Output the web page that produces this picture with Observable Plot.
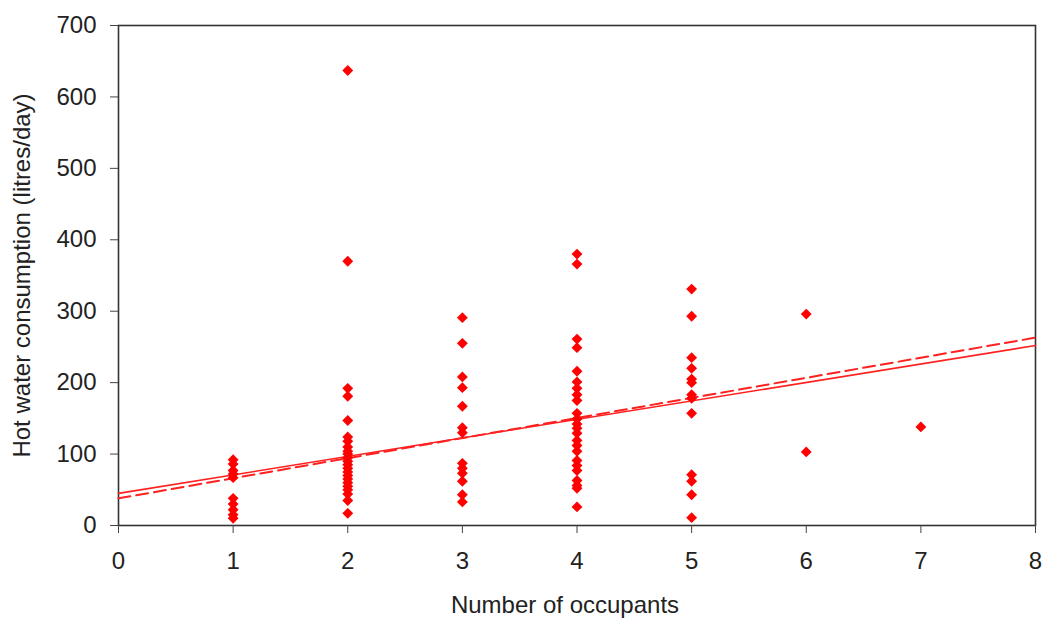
<!DOCTYPE html>
<html>
<head>
<meta charset="utf-8">
<script src="https://cdn.jsdelivr.net/npm/d3@7"></script>
<script src="https://cdn.jsdelivr.net/npm/@observablehq/plot@0.6"></script>
<style>
  body { margin: 0; background: #fff; }
</style>
</head>
<body>
<div id="chart"></div>
<script>
// Observed hot water consumption by number of occupants
const occ1 = [92, 86, 77, 72, 67, 38, 30, 22, 15, 10];
const occ2 = [637, 370, 192, 181, 147, 124, 118, 110, 104, 100, 95, 90, 85, 80, 75, 70, 65, 60, 55, 50, 44, 35, 17];
const occ3 = [291, 255, 208, 193, 167, 137, 130, 87, 80, 73, 62, 43, 33];
const occ4 = [380, 366, 261, 249, 216, 201, 192, 183, 175, 157, 149, 142, 136, 129, 119, 112, 104, 91, 84, 77, 63, 56, 52, 26];
const occ5 = [331, 293, 235, 220, 205, 200, 183, 178, 157, 71, 62, 43, 11];
const occ6 = [296, 103];
const occ7 = [138];

// Fitted lines (end values)
const fitX = [0, 8];
const fitSolid = [45, 252];
const fitDashed = [38, 263];

const xTicks = [0, 1, 2, 3, 4, 5, 6, 7, 8];
const yTicks = [0, 100, 200, 300, 400, 500, 600, 700];
const xLabel = "Number of occupants";
const yLabel = "Hot water consumption (litres/day)";

const groups = [occ1, occ2, occ3, occ4, occ5, occ6, occ7];
const points = groups.flatMap((vals, i) => vals.map(v => ({x: i + 1, y: v})));
const solid = fitX.map((x, i) => ({x, y: fitSolid[i]}));
const dashed = fitX.map((x, i) => ({x, y: fitDashed[i]}));

const chart = Plot.plot({
  width: 1046,
  height: 625,
  marginLeft: 118,
  marginRight: 11,
  marginTop: 25,
  marginBottom: 100,
  style: {fontFamily: "Liberation Sans, Arial, sans-serif", fontSize: "24px", color: "#222", background: "#fff"},
  x: {domain: [0, 8]},
  y: {domain: [0, 700]},
  marks: [
    Plot.frame({stroke: "#333", strokeWidth: 1.6}),
    Plot.axisY({ticks: yTicks, tickSize: 8, tickPadding: 14, fontSize: 24, stroke: "#444",
      label: yLabel, labelAnchor: "center", labelOffset: 106, labelArrow: "none"}),
    Plot.axisX({ticks: xTicks, tickSize: 8, tickPadding: 18, fontSize: 24, stroke: "#444", label: null}),
    Plot.text([xLabel], {frameAnchor: "bottom", text: d => d, dy: 87, dx: -12, fontSize: 24, fill: "#222"}),
    Plot.line(solid, {x: "x", y: "y", stroke: "#ff2020", strokeWidth: 1.6}),
    Plot.line(dashed, {x: "x", y: "y", stroke: "#ff2020", strokeWidth: 2, strokeDasharray: "12,6"}),
    Plot.dot(points, {x: "x", y: "y", symbol: "diamond2", r: 4.9, fill: "#ff0000", stroke: "none"})
  ]
});
document.getElementById("chart").appendChild(chart);
</script>
</body>
</html>
